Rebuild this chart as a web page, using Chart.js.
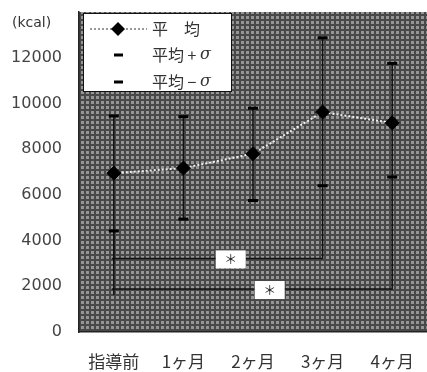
<!DOCTYPE html>
<html><head><meta charset="utf-8">
<script src="https://cdn.jsdelivr.net/npm/chart.js@4/dist/chart.umd.min.js"></script>
<style>html,body{margin:0;padding:0;background:#fff}#wrap{width:427px;height:372px;position:relative}</style>
</head><body><div id="wrap"><canvas id="c" width="427" height="372"></canvas></div>
<script>
const categories = ['指導前', '1ヶ月', '2ヶ月', '3ヶ月', '4ヶ月'];
const meanValues = [6950, 7170, 7800, 9620, 9150];
const plusSigma = [9450, 9420, 9790, 12870, 11750];
const minusSigma = [4420, 4940, 5750, 6400, 6780];
const yTicks = [0, 2000, 4000, 6000, 8000, 10000, 12000];
const seriesLabels = ['平　均', '平均 + ', '平均 − '];
const sigmaSymbol = 'σ';
const unitLabel = '(kcal)';
const sigFrom = [0, 0];
const sigTo = [3, 4];
const sigLevel = [3220, 1880];
const sigMark = ['＊', '＊'];

const patternCanvas = (() => {
  const p = document.createElement('canvas'); p.width = 5; p.height = 5;
  const g = p.getContext('2d');
  g.fillStyle = '#484848'; g.fillRect(0, 0, 5, 5);
  g.fillStyle = '#959595'; g.fillRect(1, 1, 3, 3);
  return p;
})();

const decor = {
  id: 'decor',
  beforeDraw(chart) {
    const { ctx, chartArea: a } = chart;
    ctx.save();
    ctx.fillStyle = ctx.createPattern(patternCanvas, 'repeat');
    ctx.fillRect(a.left, a.top, a.right - a.left, a.bottom - a.top);
    ctx.restore();
  },
  beforeDatasetsDraw(chart) {
    const { ctx, scales: { x, y } } = chart;
    ctx.save();
    ctx.strokeStyle = '#111'; ctx.lineWidth = 1.5;
    categories.forEach((c, i) => {
      const px = x.getPixelForValue(i);
      ctx.beginPath();
      ctx.moveTo(px, y.getPixelForValue(plusSigma[i]));
      ctx.lineTo(px, y.getPixelForValue(minusSigma[i]));
      ctx.stroke();
    });
    sigFrom.forEach((a, k) => {
      const b = sigTo[k];
      const xa = x.getPixelForValue(a), xb = x.getPixelForValue(b);
      const yl = y.getPixelForValue(sigLevel[k]);
      ctx.beginPath();
      ctx.moveTo(xa, y.getPixelForValue(minusSigma[a]));
      ctx.lineTo(xa, yl + 6);
      ctx.moveTo(xa - 2, yl);
      ctx.lineTo(xb, yl);
      ctx.lineTo(xb, y.getPixelForValue(minusSigma[b]));
      ctx.stroke();
    });
    sigFrom.forEach((a, k) => {
      const b = sigTo[k];
      const xa = x.getPixelForValue(a), xb = x.getPixelForValue(b);
      const yl = y.getPixelForValue(sigLevel[k]);
      const cx = xa + 0.56 * (xb - xa), cy = yl + 1;
      ctx.fillStyle = '#fff';
      ctx.fillRect(cx - 15, cy - 9, 30, 18);
      ctx.fillStyle = '#222';
      ctx.font = '13px "Noto Sans CJK JP"';
      ctx.textAlign = 'center'; ctx.textBaseline = 'middle';
      ctx.fillText(sigMark[k], cx, cy);
    });
    ctx.restore();
  },
  afterDraw(chart) {
    const { ctx } = chart;
    ctx.save();
    ctx.fillStyle = '#333';
    ctx.font = '14px "DejaVu Sans"';
    ctx.textAlign = 'left'; ctx.textBaseline = 'middle';
    ctx.fillText(unitLabel, 12, 23);
    ctx.fillStyle = '#fff';
    ctx.fillRect(83, 13, 149, 79);
    ctx.strokeStyle = '#111'; ctx.lineWidth = 1;
    ctx.strokeRect(83.5, 13.5, 148, 78);
    const rows = [29, 55, 82];
    ctx.strokeStyle = '#999'; ctx.lineWidth = 2; ctx.setLineDash([2, 2]);
    ctx.beginPath(); ctx.moveTo(90, rows[0]); ctx.lineTo(147, rows[0]); ctx.stroke();
    ctx.setLineDash([]);
    ctx.fillStyle = '#000';
    ctx.beginPath();
    ctx.moveTo(118 - 7, rows[0]); ctx.lineTo(118, rows[0] - 7); ctx.lineTo(118 + 7, rows[0]); ctx.lineTo(118, rows[0] + 7);
    ctx.closePath(); ctx.fill();
    ctx.strokeStyle = '#000'; ctx.lineWidth = 3;
    [rows[1], rows[2]].forEach(ry => { ctx.beginPath(); ctx.moveTo(114, ry); ctx.lineTo(123, ry); ctx.stroke(); });
    ctx.fillStyle = '#333';
    ctx.textBaseline = 'middle';
    seriesLabels.forEach((t, i) => {
      ctx.font = '16px "Noto Sans CJK JP"';
      ctx.fillText(t, 152, rows[i]);
      if (i > 0) {
        const w = ctx.measureText(t).width;
        ctx.font = 'italic 16px "DejaVu Serif"';
        ctx.fillText(sigmaSymbol, 152 + w, rows[i]);
      }
    });
    ctx.restore();
  }
};

new Chart(document.getElementById('c'), {
  type: 'line',
  data: {
    labels: categories,
    datasets: [
      { label: seriesLabels[0], data: meanValues, borderColor: '#f0f0f0', borderWidth: 2, borderDash: [2, 2],
        pointStyle: 'rectRot', pointRadius: 7, pointBackgroundColor: '#000', pointBorderColor: '#000', pointBorderWidth: 1, tension: 0 },
      { label: seriesLabels[1], data: plusSigma, showLine: false, pointStyle: 'line', pointRadius: 5,
        pointBorderColor: '#000', pointBorderWidth: 3 },
      { label: seriesLabels[2], data: minusSigma, showLine: false, pointStyle: 'line', pointRadius: 5,
        pointBorderColor: '#000', pointBorderWidth: 3 }
    ]
  },
  options: {
    responsive: false, animation: false, devicePixelRatio: 1,
    layout: { autoPadding: false, padding: { top: 12, right: 0, left: 0, bottom: 0 } },
    plugins: { legend: { display: false }, tooltip: { enabled: false } },
    scales: {
      x: {
        type: 'category', offset: true,
        grid: { display: false, drawTicks: false },
        border: { display: true, color: '#222', width: 1.5 },
        ticks: { color: '#333', font: { family: '"Noto Sans CJK JP"', size: 17 }, padding: 19, maxRotation: 0 },
        afterFit: s => { s.height = 40; s.paddingLeft = 0; s.paddingRight = 0; }
      },
      y: {
        min: 0, max: 14000,
        grid: { display: false, drawTicks: false },
        border: { display: true, color: '#222', width: 1.5 },
        afterBuildTicks: s => { s.ticks = yTicks.map(v => ({ value: v })); },
        ticks: { color: '#444', font: { family: '"DejaVu Sans"', size: 16 }, padding: 17, callback: v => String(v) },
        afterFit: s => { s.width = 79; s.paddingTop = 0; s.paddingBottom = 0; }
      }
    }
  },
  plugins: [decor]
});
</script>
</body></html>
